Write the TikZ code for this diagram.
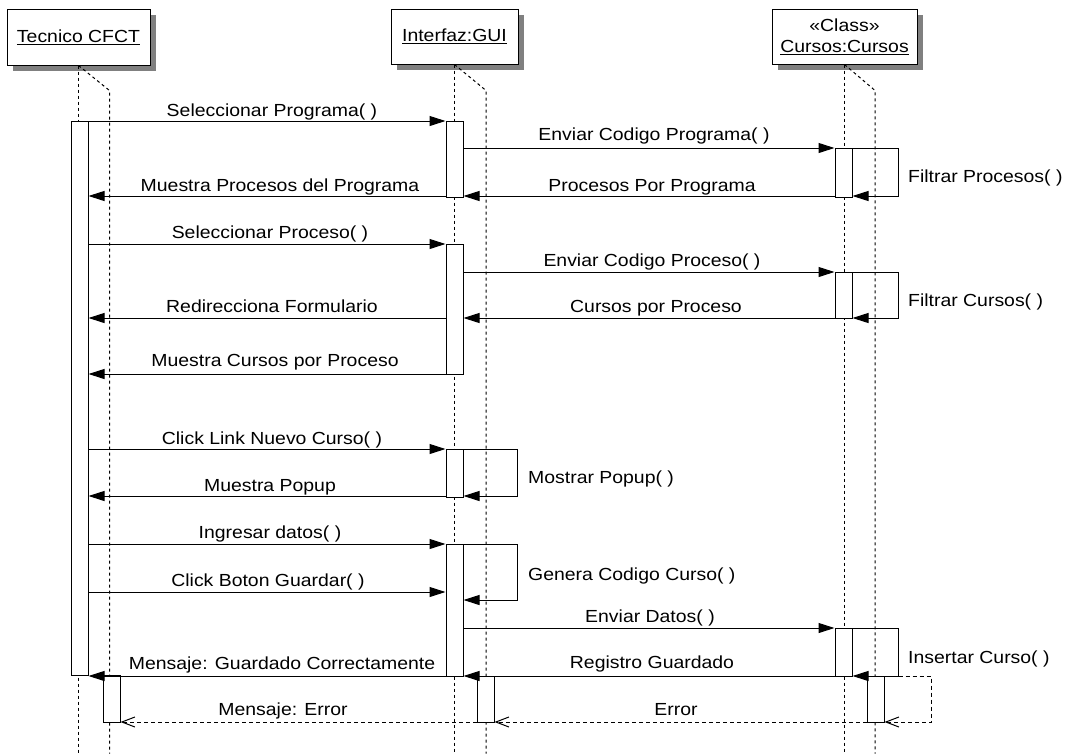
\documentclass[tikz,border=0pt]{standalone}
\usepackage{fontspec}
\setmainfont{Liberation Sans}[FakeStretch=1.11]
\usetikzlibrary{arrows.meta,shadows}

\begin{document}
\begin{tikzpicture}[x=1pt,y=-1pt,
  every node/.style={font=\fontsize{17.5}{22}\selectfont, text=black},
  head/.style={draw, fill=white, line width=1pt, inner sep=0pt, align=center,
    drop shadow={shadow xshift=6pt, shadow yshift=-6pt, opacity=1, fill=black!50}},
  bar/.style={draw, fill=white, line width=1pt, inner sep=0pt, minimum width=17pt, anchor=north},
  life/.style={line width=1pt, dash pattern=on 3pt off 3pt},
  msg/.style={line width=1pt, -{Triangle[length=16pt,width=10pt]}},
  ret/.style={line width=1pt, dash pattern=on 4pt off 3pt, -{Straight Barb[length=13pt,width=10pt]}},
  lbl/.style={anchor=base, inner sep=0pt},
  slbl/.style={anchor=base west, inner sep=0pt}
]
\useasboundingbox (0,0) rectangle (1068,753);

% object heads
\node[head, minimum width=143pt, minimum height=56pt] (hT) at (78.5,37) {\underline{Tecnico CFCT}};
\node[head, minimum width=127pt, minimum height=55pt] (hG) at (454.5,36.5) {\underline{Interfaz:GUI}};
\node[head, minimum width=145pt, minimum height=55pt] (hC) at (844.5,36.5) {«Class»\\[-1pt]\underline{Cursos:Cursos}};

% lifelines
\draw[life] (hT.south) -- (hT.south |- 0,753);
\draw[life] (hT.south) -- ++(31,25) -- ++(0,663);
\draw[life] (hG.south) -- (hG.south |- 0,753);
\draw[life] (hG.south) -- ++(31.5,26) -- ++(0,663);
\draw[life] (hC.south) -- (hC.south |- 0,753);
\draw[life] (hC.south) -- ++(30.5,26) -- ++(0,663);

% activation bars
\node[bar, minimum height=554pt] (t1) at (79.5,121) {};
\node[bar, minimum height=47pt]  (tE) at (111.5,675) {};
\node[bar, minimum height=76pt]  (g1) at (454.5,121) {};
\node[bar, minimum height=130pt] (g2) at (454.5,244) {};
\node[bar, minimum height=48pt]  (g3) at (454.5,449) {};
\node[bar, minimum height=132pt] (g4) at (454.5,544) {};
\node[bar, minimum height=46pt]  (gE) at (485.5,676) {};
\node[bar, minimum height=49pt]  (c1) at (843.5,148) {};
\node[bar, minimum height=46pt]  (c2) at (843.5,272) {};
\node[bar, minimum height=48pt]  (c3) at (843.5,628) {};
\node[bar, minimum height=46pt]  (cE) at (875.5,676) {};

% messages
\draw[msg] (t1.east |- 0,121) -- (g1.west |- 0,121);
\draw[msg] (g1.east |- 0,148) -- (c1.west |- 0,148);
\draw[msg] (c1.east |- 0,148) -- (898,148) -- (898,196) -- (c1.east |- 0,196);
\draw[msg] (c1.west |- 0,196) -- (g1.east |- 0,196);
\draw[msg] (g1.west |- 0,196) -- (t1.east |- 0,196);
\draw[msg] (t1.east |- 0,244) -- (g2.west |- 0,244);
\draw[msg] (g2.east |- 0,272) -- (c2.west |- 0,272);
\draw[msg] (c2.east |- 0,272) -- (898,272) -- (898,318) -- (c2.east |- 0,318);
\draw[msg] (c2.west |- 0,318) -- (g2.east |- 0,318);
\draw[msg] (g2.west |- 0,318) -- (t1.east |- 0,318);
\draw[msg] (g2.west |- 0,374) -- (t1.east |- 0,374);
\draw[msg] (t1.east |- 0,449) -- (g3.west |- 0,449);
\draw[msg] (g3.east |- 0,449) -- (517,449) -- (517,496) -- (g3.east |- 0,496);
\draw[msg] (g3.west |- 0,496) -- (t1.east |- 0,496);
\draw[msg] (t1.east |- 0,544) -- (g4.west |- 0,544);
\draw[msg] (g4.east |- 0,544) -- (517,544) -- (517,600) -- (g4.east |- 0,600);
\draw[msg] (t1.east |- 0,592) -- (g4.west |- 0,592);
\draw[msg] (g4.east |- 0,628) -- (c3.west |- 0,628);
\draw[msg] (c3.east |- 0,628) -- (898,628) -- (898,676) -- (c3.east |- 0,676);
\draw[msg] (c3.west |- 0,676) -- (g4.east |- 0,676);
\draw[msg] (g4.west |- 0,676) -- (t1.east |- 0,676);
\draw[ret] (cE.east |- 0,676) -- (931,676) -- (931,722) -- (cE.east |- 0,722);
\draw[ret] (cE.west |- 0,722) -- (gE.east |- 0,722);
\draw[ret] (gE.west |- 0,722) -- (tE.east |- 0,722);

% message labels
\node[lbl] (l1)  at (272,116) {Seleccionar Programa( )};
\node[lbl] (l2)  at (654,140) {Enviar Codigo Programa( )};
\node[slbl] (l3) at (908,182) {Filtrar Procesos( )};
\node[lbl] (l4)  at (652,191) {Procesos Por Programa};
\node[lbl] (l5)  at (280,191) {Muestra Procesos del Programa};
\node[lbl] (l6)  at (270,238) {Seleccionar Proceso( )};
\node[lbl] (l7)  at (652,266) {Enviar Codigo Proceso( )};
\node[slbl] (l8) at (908,306) {Filtrar Cursos( )};
\node[lbl] (l9)  at (656,312) {Cursos por Proceso};
\node[lbl] (l10) at (272,312) {Redirecciona Formulario};
\node[lbl] (l11) at (275,366) {Muestra Cursos por Proceso};
\node[lbl] (l12) at (272,444) {Click Link Nuevo Curso( )};
\node[slbl] (l13) at (528,483) {Mostrar Popup( )};
\node[lbl] (l14) at (270,491) {Muestra Popup};
\node[lbl] (l15) at (270,538) {Ingresar datos( )};
\node[slbl] (l16) at (528,580) {Genera Codigo Curso( )};
\node[lbl] (l17) at (268,586) {Click Boton Guardar( )};
\node[lbl] (l18) at (650,622) {Enviar Datos( )};
\node[slbl] (l19) at (908,663) {Insertar Curso( )};
\node[lbl] (l20) at (652,668) {Registro Guardado};
\node[lbl] (l21) at (282,669) {Mensaje: Guardado Correctamente};
\node[lbl] (l22) at (283,715) {Mensaje: Error};
\node[lbl] (l23) at (676,715) {Error};
\end{tikzpicture}
\end{document}
